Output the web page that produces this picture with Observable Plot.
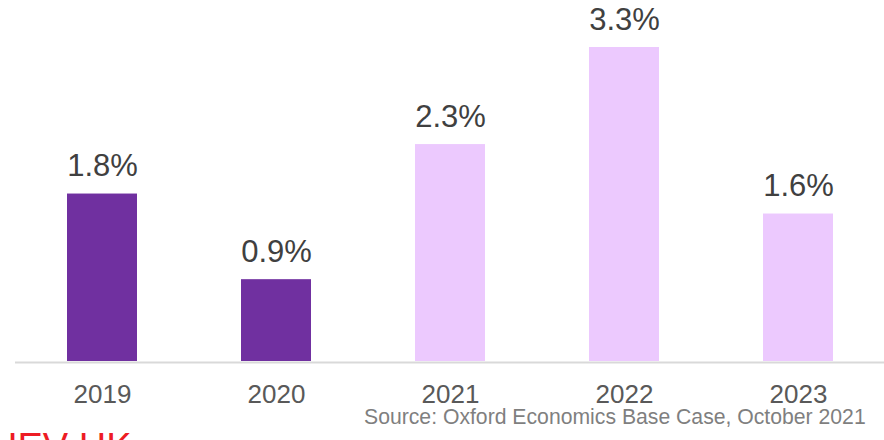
<!DOCTYPE html>
<html>
<head>
<meta charset="utf-8">
<script src="https://cdn.jsdelivr.net/npm/d3@7"></script>
<script src="https://cdn.jsdelivr.net/npm/@observablehq/plot@0.6"></script>
<style>
  html, body { margin: 0; padding: 0; background: #ffffff; }
  body { width: 884px; height: 440px; position: relative; overflow: hidden; font-family: "Liberation Sans", Arial, sans-serif; }
  #chart { position: absolute; left: 0; top: 0; }
  #source { position: absolute; left: 364px; top: 406px; font-size: 21.2px; line-height: 21px; color: #7f7f7f; white-space: nowrap; }
  #mark { position: absolute; left: -10px; top: 428px; font-size: 38px; line-height: 38px; color: #ED1C24; white-space: nowrap; }
</style>
</head>
<body>
<div id="chart"></div>
<div id="source">Source: Oxford Economics Base Case, October 2021</div>
<div id="mark">HEV HK</div>
<script>
const years = ["2019", "2020", "2021", "2022", "2023"];
const growth = [1.76, 0.86, 2.28, 3.3, 1.55];
const valueLabels = ["1.8%", "0.9%", "2.3%", "3.3%", "1.6%"];
const kinds = ["actual", "actual", "forecast", "forecast", "forecast"];

const data = years.map((y, i) => ({year: y, value: growth[i], label: valueLabels[i], kind: kinds[i]}));

const chart = Plot.plot({
  width: 884,
  height: 410,
  marginTop: 0,
  marginLeft: 15,
  marginRight: 0,
  marginBottom: 49,
  style: {fontFamily: "Liberation Sans, Arial, sans-serif", background: "transparent", overflow: "visible"},
  x: {domain: years, paddingInner: 0.6, paddingOuter: 0.297, label: null},
  y: {domain: [0, 3.794], axis: null},
  color: {domain: ["actual", "forecast"], range: ["#7030A0", "#ECC9FE"]},
  marks: [
    Plot.barY(data, {x: "year", y: "value", fill: "kind"}),
    Plot.ruleY([0], {stroke: "#d9d9d9", strokeWidth: 2, dy: 1}),
    Plot.text(data, {x: "year", y: "value", text: "label", lineAnchor: "bottom", dy: -18, fontSize: 31, fill: "#404040"}),
    Plot.axisX({tickSize: 0, tickPadding: 23, fontSize: 26, fill: "#595959", label: null})
  ]
});
document.getElementById("chart").appendChild(chart);
</script>
</body>
</html>
